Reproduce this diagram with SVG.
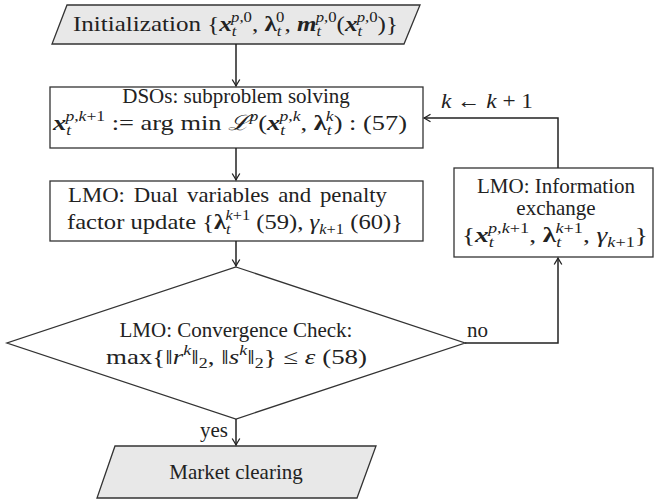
<svg xmlns="http://www.w3.org/2000/svg" width="658" height="502" viewBox="0 0 658 502">
<style>
.t{font-size:21px;fill:#222}
.i{font-style:italic}
.b{font-weight:bold;font-style:italic}
.bu{font-weight:bold}
.s{font-size:14px}
.box{fill:#fff;stroke:#333;stroke-width:1.3}
.io{fill:#e8e8e8;stroke:#333;stroke-width:1.3}
.ln{fill:none;stroke:#222;stroke-width:1.5}
</style>
<defs>
<marker id="ah" viewBox="-8 -5 10 10" refX="0" refY="0" markerWidth="10" markerHeight="10" markerUnits="userSpaceOnUse" orient="auto">
<path d="M-6.5,-3.8 Q-2,-1 0,0 Q-2,1 -6.5,3.8" fill="none" stroke="#222" stroke-width="1.3"/>
</marker>
</defs>
<g font-family="'Liberation Serif', 'Times New Roman', 'DejaVu Serif', serif">
<g id="init">
<polygon class="io" points="67,5 420,5 404,44 52,44"/>
<text class="t" x="73" y="31" textLength="325" lengthAdjust="spacingAndGlyphs">Initialization {<tspan class="b">x</tspan><tspan class="s i" dy="5">t</tspan><tspan class="s" dx="-4.5" dy="-14"><tspan class="i">p</tspan>,0</tspan><tspan dy="9">, </tspan><tspan class="bu">λ</tspan><tspan class="s i" dy="5">t</tspan><tspan class="s" dx="-4.5" dy="-14">0</tspan><tspan dy="9">, </tspan><tspan class="b">m</tspan><tspan class="s i" dy="5">t</tspan><tspan class="s" dx="-4.5" dy="-14"><tspan class="i">p</tspan>,0</tspan><tspan dy="9">(</tspan><tspan class="b">x</tspan><tspan class="s i" dy="5">t</tspan><tspan class="s" dx="-4.5" dy="-14"><tspan class="i">p</tspan>,0</tspan><tspan dy="9">)}</tspan></text>
</g>

<g id="dso">
<rect class="box" x="50" y="87" width="373" height="61"/>
<text class="t" x="236" y="103" text-anchor="middle">DSOs: subproblem solving</text>
<text class="t" x="53" y="130" textLength="354" lengthAdjust="spacingAndGlyphs"><tspan class="b">x</tspan><tspan class="s i" dy="5">t</tspan><tspan class="s" dx="-4.5" dy="-14"><tspan class="i">p</tspan>,<tspan class="i">k</tspan>+1</tspan><tspan dy="9"> := arg min </tspan><tspan class="i">ℒ</tspan><tspan class="s i" dy="-9">p</tspan><tspan dy="9">(</tspan><tspan class="b">x</tspan><tspan class="s i" dy="5">t</tspan><tspan class="s" dx="-4.5" dy="-14"><tspan class="i">p</tspan>,<tspan class="i">k</tspan></tspan><tspan dy="9">, </tspan><tspan class="bu">λ</tspan><tspan class="s i" dy="5">t</tspan><tspan class="s i" dx="-4.5" dy="-14">k</tspan><tspan dy="9">) : (57)</tspan></text>
</g>

<g id="dual">
<rect class="box" x="50" y="181" width="373" height="60"/>
<text class="t" x="68" y="202" textLength="319" lengthAdjust="spacingAndGlyphs" word-spacing="3">LMO: Dual variables and penalty</text>
<text class="t" x="67" y="229" textLength="336" lengthAdjust="spacingAndGlyphs">factor update {<tspan class="bu">λ</tspan><tspan class="s i" dy="5">t</tspan><tspan class="s" dx="-4.5" dy="-14"><tspan class="i">k</tspan>+1</tspan><tspan dy="9"> (59), </tspan><tspan class="i">γ</tspan><tspan class="s" dy="5"><tspan class="i">k</tspan>+1</tspan><tspan dy="-5"> (60)}</tspan></text>
</g>

<g id="info">
<rect class="box" x="454" y="168" width="199" height="89"/>
<text class="t" x="556" y="193" text-anchor="middle">LMO: Information</text>
<text class="t" x="556" y="215" text-anchor="middle">exchange</text>
<text class="t" x="462" y="242" textLength="186" lengthAdjust="spacingAndGlyphs">{<tspan class="b">x</tspan><tspan class="s i" dy="5">t</tspan><tspan class="s" dx="-4.5" dy="-14"><tspan class="i">p</tspan>,<tspan class="i">k</tspan>+1</tspan><tspan dy="9">, </tspan><tspan class="bu">λ</tspan><tspan class="s i" dy="5">t</tspan><tspan class="s" dx="-4.5" dy="-14"><tspan class="i">k</tspan>+1</tspan><tspan dy="9">, </tspan><tspan class="i">γ</tspan><tspan class="s" dy="5"><tspan class="i">k</tspan>+1</tspan><tspan dy="-5">}</tspan></text>
</g>

<g id="check">
<polygon class="box" points="236,267 465,343 236,419 7,343"/>
<text class="t" x="236" y="337" text-anchor="middle">LMO: Convergence Check:</text>
<text class="t" x="106" y="364" textLength="261" lengthAdjust="spacingAndGlyphs">max{‖<tspan class="i">r</tspan><tspan class="s i" dy="-9">k</tspan><tspan dy="9">‖</tspan><tspan class="s" dy="4">2</tspan><tspan dy="-4">, ‖</tspan><tspan class="i">s</tspan><tspan class="s i" dy="-9">k</tspan><tspan dy="9">‖</tspan><tspan class="s" dy="4">2</tspan><tspan dy="-4">} ≤ </tspan><tspan class="i">ε</tspan> (58)</text>
</g>

<g id="market">
<polygon class="io" points="115,446 376,446 357,498 97,498"/>
<text class="t" x="236" y="479" text-anchor="middle">Market clearing</text>
</g>

<g id="connectors">
<path class="ln" d="M236,44 V86" marker-end="url(#ah)"/>
<path class="ln" d="M236,148 V180" marker-end="url(#ah)"/>
<path class="ln" d="M236,241 V266" marker-end="url(#ah)"/>
<path class="ln" d="M465,343 H558 V258" marker-end="url(#ah)"/>
<path class="ln" d="M558,168 V118 H424" marker-end="url(#ah)"/>
<path class="ln" d="M236,419 V445" marker-end="url(#ah)"/>
<text class="t" x="467" y="337">no</text>
<text class="t" x="228" y="437" text-anchor="end">yes</text>
<text class="t" x="441" y="108" textLength="92" lengthAdjust="spacingAndGlyphs"><tspan class="i">k</tspan> ← <tspan class="i">k</tspan> + 1</text>
</g>
</g>
</svg>
